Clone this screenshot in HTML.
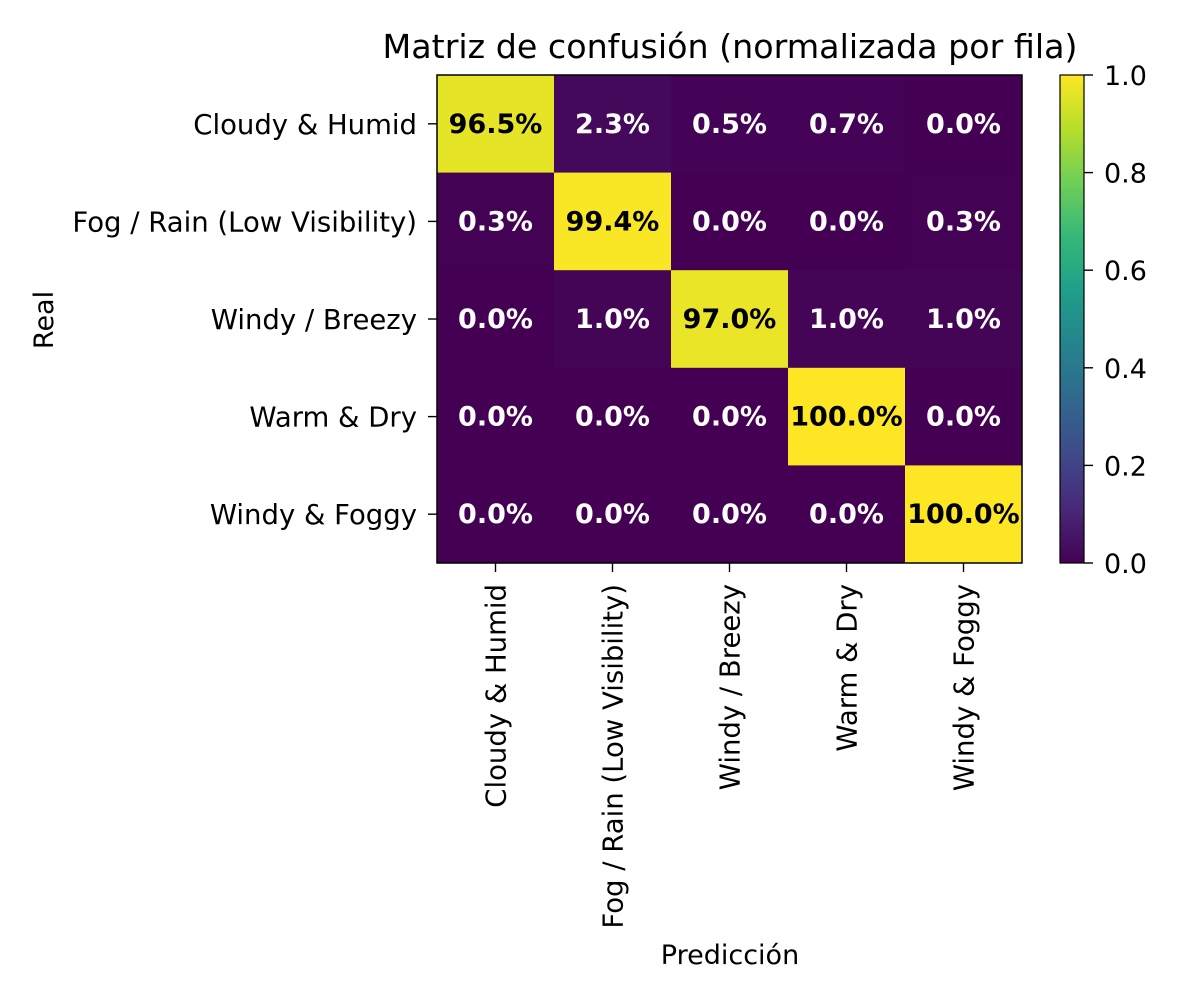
<!DOCTYPE html>
<html><head><meta charset="utf-8"><style>
body{margin:0;background:#fff;}
svg text{font-family:"DejaVu Sans","Liberation Sans",sans-serif;}
</style></head><body>
<svg id="chart" width="1200" height="1000" xmlns="http://www.w3.org/2000/svg">
<defs><linearGradient id="vir" x1="0" y1="1" x2="0" y2="0">
<stop offset="0" stop-color="#440154"/><stop offset="0.111" stop-color="#482878"/><stop offset="0.222" stop-color="#3e4a89"/><stop offset="0.333" stop-color="#31688e"/><stop offset="0.444" stop-color="#26828e"/><stop offset="0.556" stop-color="#1f9e89"/><stop offset="0.667" stop-color="#35b779"/><stop offset="0.778" stop-color="#6ece58"/><stop offset="0.889" stop-color="#b5de2b"/><stop offset="1" stop-color="#fde725"/>
</linearGradient></defs>
<text x="730" y="58" font-size="33.3" text-anchor="middle">Matriz de confusión (normalizada por fila)</text>
<g id="cells"></g>
<rect x="437" y="75" width="585" height="488" fill="none" stroke="#000" stroke-width="1.5"/>
<g id="ticks"></g>
<text x="730" y="964" font-size="27" text-anchor="middle">Predicción</text>
<text transform="translate(53,320) rotate(-90)" font-size="27" text-anchor="middle">Real</text>
<rect x="1060" y="75" width="24" height="488" fill="url(#vir)" stroke="#000" stroke-width="1.2"/>
<g id="cbticks"></g>
</svg>
<script>
const categories=["Cloudy & Humid","Fog / Rain (Low Visibility)","Windy / Breezy","Warm & Dry","Windy & Foggy"];
const row0=[0.965,0.023,0.005,0.007,0.000];
const row1=[0.003,0.994,0.000,0.000,0.003];
const row2=[0.000,0.010,0.970,0.010,0.010];
const row3=[0.000,0.000,0.000,1.000,0.000];
const row4=[0.000,0.000,0.000,0.000,1.000];
const matrix=[row0,row1,row2,row3,row4];
const cbTicks=[0,0.2,0.4,0.6,0.8,1.0];
const NS="http://www.w3.org/2000/svg";
const X0=437,Y0=75,W=585,H=488,n=categories.length,cw=W/n,ch=H/n;
const xS=i=>X0+i*cw, yS=j=>Y0+j*ch, cbY=v=>563-v*488;
const stops=["#440154","#482878","#3e4a89","#31688e","#26828e","#1f9e89","#35b779","#6ece58","#b5de2b","#fde725"];
function hex(h){return [1,3,5].map(k=>parseInt(h.substr(k,2),16));}
function vir(v){v=Math.max(0,Math.min(1,v));const p=v*9,i=Math.min(8,Math.floor(p)),t=p-i;const a=hex(stops[i]),b=hex(stops[i+1]);return "rgb("+a.map((c,k)=>Math.round(c+(b[k]-c)*t)).join(",")+")";}
function mk(tag,attrs,parent){const e=document.createElementNS(NS,tag);for(const k in attrs)e.setAttribute(k,attrs[k]);parent.appendChild(e);return e;}
const cells=document.getElementById("cells"),ticks=document.getElementById("ticks"),cb=document.getElementById("cbticks");
matrix.forEach((row,j)=>row.forEach((v,i)=>{
 const r=mk("rect",{x:xS(i),y:yS(j),width:cw+0.5,height:ch+0.5,fill:vir(v)},cells);
 
 
 const t=mk("text",{x:xS(i)+cw/2,y:yS(j)+ch/2+9,"font-size":27,"font-weight":"bold","text-anchor":"middle",fill:v>0.5?"#000":"#fff"},cells);
 t.textContent=(v*100).toFixed(1)+"%";
 
 
}));
categories.forEach((c,k)=>{
 const yc=yS(k)+ch/2, xc=xS(k)+cw/2;
 mk("line",{x1:X0-9,x2:X0,y1:yc,y2:yc,stroke:"#000","stroke-width":1.4},ticks);
 const t=mk("text",{x:X0-20,y:yc+10,"font-size":27.5,"text-anchor":"end"},ticks);
 t.textContent=c;
 
 
 mk("line",{x1:xc,x2:xc,y1:563,y2:572,stroke:"#000","stroke-width":1.4},ticks);
 const u=mk("text",{transform:"translate("+(xc+10)+",584) rotate(-90)","font-size":27.5,"text-anchor":"end"},ticks);
 u.textContent=c;
 
 
});
cbTicks.forEach(v=>{
 const y=cbY(v);
 mk("line",{x1:1084,x2:1093,y1:y,y2:y,stroke:"#000","stroke-width":1.4},cb);
 const t=mk("text",{x:1104,y:y+10,"font-size":27},cb);
 t.textContent=v.toFixed(1);
 
 
});
</script>
</body></html>
